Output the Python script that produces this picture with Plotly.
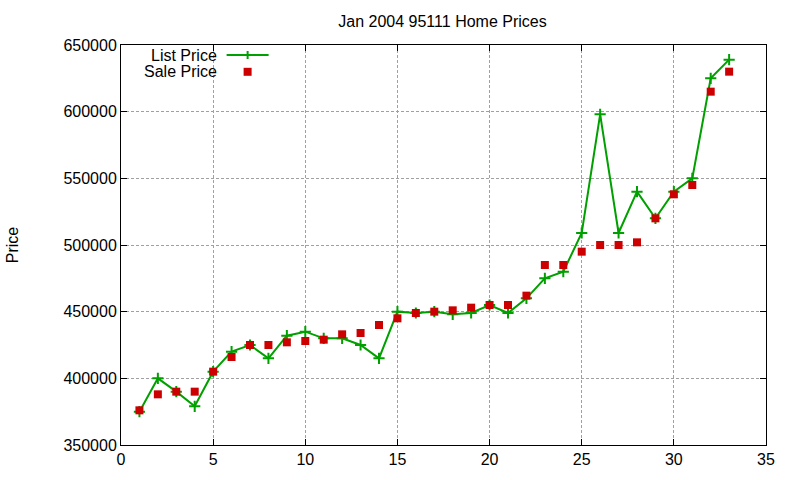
import plotly.graph_objects as go

x_vals = list(range(1, 34))
list_price = [375000, 400000, 390000, 379000, 405000, 420000, 425000, 415000, 432000, 435000,
              430000, 430000, 425000, 415000, 450000, 449000, 450000, 448000, 449000, 455000,
              449000, 460000, 475000, 480000, 509000, 598000, 509000, 540000, 520000, 540000,
              550000, 625000, 639000]
sale_price = [376000, 388000, 390000, 390000, 405000, 416000, 425000, 425000, 427000, 428000,
              429000, 433000, 434000, 440000, 445000, 449000, 450000, 451000, 453000, 455000,
              455000, 462000, 485000, 485000, 495000, 500000, 500000, 502000, 520000, 538000,
              545000, 615000, 630000]

title_text = "Jan 2004 95111 Home Prices"
y_title = "Price"
series_names = ["List Price", "Sale Price"]

GREEN = "#00a000"
RED = "#cc0000"
FONT = "Liberation Sans, Arial, sans-serif"

fig = go.Figure()
fig.add_trace(go.Scatter(
    x=x_vals, y=list_price, mode="lines+markers", name=series_names[0],
    line=dict(color=GREEN, width=2),
    marker=dict(symbol="cross-thin", size=8, line=dict(color=GREEN, width=2), color=GREEN),
    showlegend=False))
fig.add_trace(go.Scatter(
    x=x_vals, y=sale_price, mode="markers", name=series_names[1],
    marker=dict(symbol="square", size=8, color=RED),
    showlegend=False))

axis_common = dict(
    showline=True, linecolor="black", linewidth=1, mirror="ticks",
    ticks="inside", ticklen=6, tickcolor="black", tickwidth=1,
    showgrid=True, gridcolor="#a0a0a0", griddash="3px,2px", gridwidth=1,
    zeroline=False, tickfont=dict(family=FONT, size=16, color="black"),
)

fig.update_xaxes(range=[0, 35], dtick=5, tick0=0, **axis_common)
fig.update_yaxes(range=[350000, 650000], dtick=50000, tick0=350000, tickformat="d",
                 title=dict(text=y_title, font=dict(family=FONT, size=16, color="black"), standoff=40),
                 **axis_common)

# custom legend (text left of sample, gnuplot style)
leg_text_x = 0.1515
leg_y1 = 0.975
leg_y2 = 0.933
sample_x = 0.1963
annotations = [
    dict(text=series_names[0], x=leg_text_x, y=leg_y1, xref="paper", yref="paper",
         xanchor="right", yanchor="middle", showarrow=False,
         font=dict(family=FONT, size=16, color="black")),
    dict(text=series_names[1], x=leg_text_x, y=leg_y2, xref="paper", yref="paper",
         xanchor="right", yanchor="middle", showarrow=False,
         font=dict(family=FONT, size=16, color="black")),
]
shapes = [
    dict(type="line", xref="paper", yref="paper", xsizemode="pixel", ysizemode="pixel",
         xanchor=sample_x, yanchor=leg_y1, x0=-21, x1=21, y0=0, y1=0,
         line=dict(color=GREEN, width=2)),
    dict(type="line", xref="paper", yref="paper", xsizemode="pixel", ysizemode="pixel",
         xanchor=sample_x, yanchor=leg_y1, x0=0, x1=0, y0=-4, y1=4,
         line=dict(color=GREEN, width=2)),
    dict(type="rect", xref="paper", yref="paper", xsizemode="pixel", ysizemode="pixel",
         xanchor=sample_x, yanchor=leg_y2, x0=-4, x1=4, y0=-4, y1=4,
         fillcolor=RED, line=dict(width=0)),
]

fig.update_layout(
    width=800, height=480,
    margin=dict(l=119, r=34, t=45, b=32),
    paper_bgcolor="white", plot_bgcolor="white",
    title=dict(text=title_text, x=(119 + 766) / 2 / 800, xanchor="center",
               y=1 - 21 / 480, yanchor="middle",
               font=dict(family=FONT, size=16, color="black")),
    font=dict(family=FONT, size=16, color="black"),
    annotations=annotations, shapes=shapes,
)

fig.write_html("out.html")
